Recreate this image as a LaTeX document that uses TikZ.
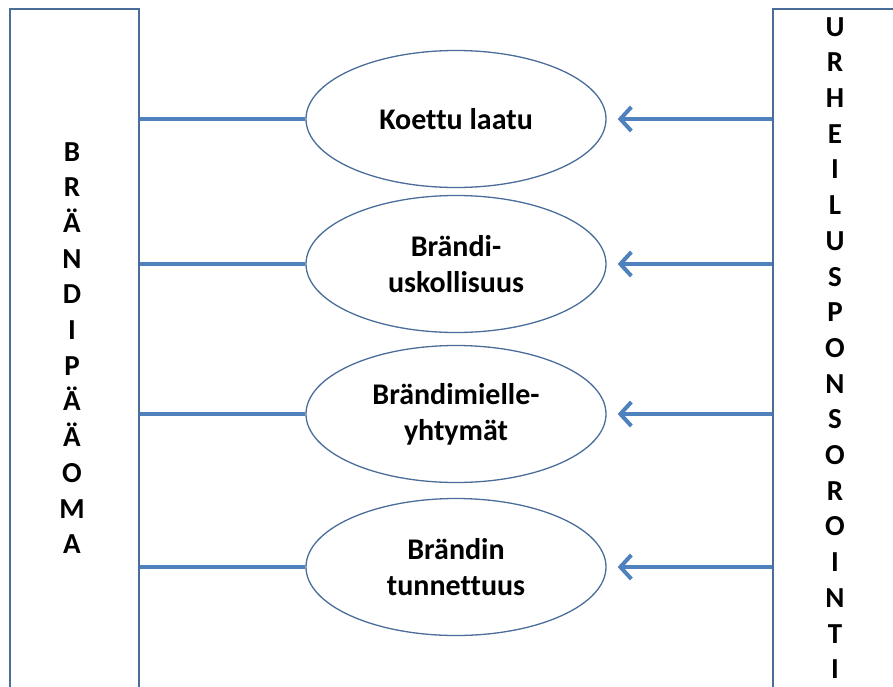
\documentclass[tikz,border=0pt]{standalone}
\usepackage{fontspec}
\setmainfont{Carlito}[Ligatures=NoCommon]
\usetikzlibrary{arrows.meta, positioning, shapes.geometric}
\definecolor{linkblue}{HTML}{4F81BD}
\definecolor{edgeblue}{HTML}{4A6D99}

\begin{document}
\begin{tikzpicture}[x=1pt, y=-1pt,
    sidebox/.style={draw=edgeblue, line width=2pt, minimum height=760pt, inner sep=0pt},
    factor/.style={ellipse, draw=edgeblue, line width=1.3pt, minimum width=300pt, minimum height=137pt, inner sep=0pt, align=center, font=\bfseries\fontsize{30}{36}\selectfont},
    letters/.style={align=center, inner sep=0pt, font=\bfseries\fontsize{29}{35.7}\selectfont},
    link/.style={draw=linkblue, line width=4pt},
    pull/.style={link, -{Straight Barb[length=11pt, width=24pt]}, shorten >=11pt}
]
\useasboundingbox (0,0) rectangle (893,686);
\clip (0,0) rectangle (893,686);

% Side boxes
\node[sidebox, minimum width=129pt, anchor=north west] (brand) at (9,8) {};
\node[sidebox, minimum width=200pt, anchor=north west] (spons) at (772,8) {};

% Vertical titles
\node[letters] (brandtxt) at (72,348) {B\\R\\Ä\\N\\D\\I\\P\\Ä\\Ä\\O\\M\\A};
\node[letters] (sponstxt) at (835,348) {U\\R\\H\\E\\I\\L\\U\\S\\P\\O\\N\\S\\O\\R\\O\\I\\N\\T\\I};

% Brand equity factors
\node[factor] (quality) at (456,119) {Koettu laatu};
\node[factor] (loyalty) at (456,264) {Brändi-\\uskollisuus};
\node[factor] (assoc) at (456,414) {Brändimielle-\\yhtymät};
\node[factor] (aware) at (456,567) {Brändin\\tunnettuus};

% Connectors
\foreach \f in {quality, loyalty, assoc, aware} {
    \draw[link] (brand.east |- \f) -- (\f.west);
    \draw[pull] (spons.west |- \f) -- (\f.east);
}

\end{tikzpicture}
\end{document}
